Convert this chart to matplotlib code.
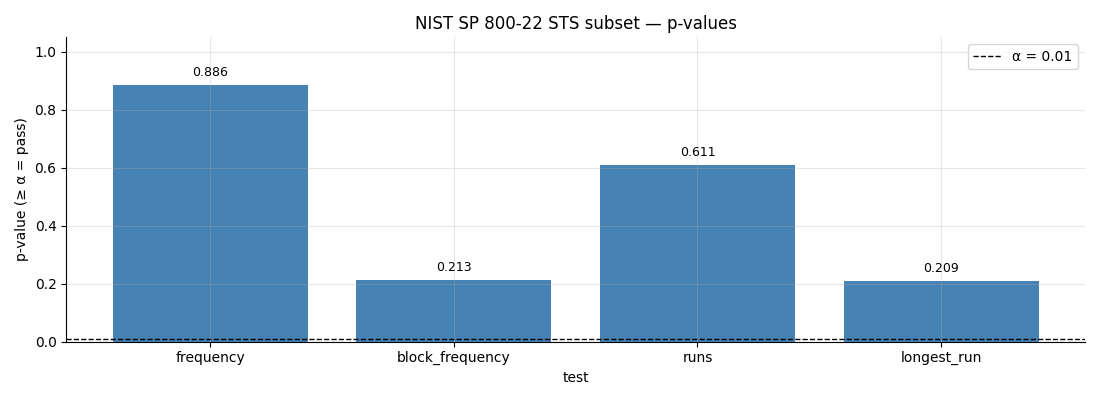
import matplotlib
matplotlib.use("Agg")
import matplotlib.pyplot as plt

tests = ["frequency", "block_frequency", "runs", "longest_run"]
p_values = [0.886, 0.213, 0.611, 0.209]
alpha = 0.01

fig, ax = plt.subplots(figsize=(11, 4), dpi=100)
bars = ax.bar(tests, p_values, color="steelblue", width=0.8)
ax.axhline(alpha, color="black", linestyle="--", linewidth=1, label=f"α = {alpha}")

for b, v in zip(bars, p_values):
    ax.text(b.get_x() + b.get_width() / 2, v + 0.02, f"{v:.3f}",
            ha="center", va="bottom", fontsize=9)

ax.set_ylim(0, 1.05)
ax.set_xlabel("test")
ax.set_ylabel("p-value (≥ α = pass)")
ax.set_title("NIST SP 800-22 STS subset — p-values")
ax.grid(True, alpha=0.3)
ax.set_axisbelow(False)
ax.spines["top"].set_visible(False)
ax.spines["right"].set_visible(False)
ax.legend(loc="upper right")

fig.tight_layout()
fig.savefig("out.png")
